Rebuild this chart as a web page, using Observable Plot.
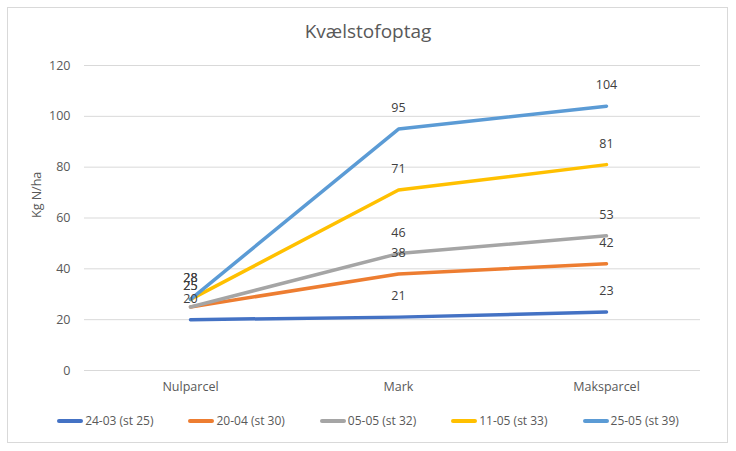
<!DOCTYPE html>
<html><head><meta charset="utf-8">
<script src="https://cdn.jsdelivr.net/npm/d3@7"></script>
<script src="https://cdn.jsdelivr.net/npm/@observablehq/plot@0.6"></script>
<style>
body{margin:0;background:#fff;font-family:"Open Sans","Liberation Sans",sans-serif;}
#frame{position:absolute;left:7px;top:7px;width:721px;height:436px;border:1px solid #d9d9d9;box-sizing:border-box;}
#title{position:absolute;left:7px;top:18px;width:722px;text-align:center;font-size:19px;color:#595959;}
#chart{position:absolute;left:7px;top:45px;}
#legend{position:absolute;left:7px;top:412px;width:722px;display:flex;justify-content:center;gap:35px;font-size:12px;color:#595959;}
#legend span.item{display:flex;align-items:center;}
#legend span.sw{display:inline-block;width:26px;height:4px;margin-right:2px;border-radius:2px;}
</style></head>
<body>
<div id="frame"></div>
<div id="title">Kvælstofoptag</div>
<div id="chart"></div>
<div id="legend"></div>
<script>
const categories = ["Nulparcel", "Mark", "Maksparcel"];
const seriesNames = ["24-03 (st 25)", "20-04 (st 30)", "05-05 (st 32)", "11-05 (st 33)", "25-05 (st 39)"];
const s2403 = [20, 21, 23];
const s2004 = [25, 38, 42];
const s0505 = [25, 46, 53];
const s1105 = [28, 71, 81];
const s2505 = [28, 95, 104];
const colors = ["#4472C4", "#ED7D31", "#A5A5A5", "#FFC000", "#5B9BD5"];
const yTicks = [0, 20, 40, 60, 80, 100, 120];

const allSeries = [s2403, s2004, s0505, s1105, s2505];
const data = [];
allSeries.forEach((vals, i) => vals.forEach((v, j) => data.push({series: seriesNames[i], cat: categories[j], value: v})));

const plot = Plot.plot({
  width: 722, height: 350,
  marginLeft: 77, marginRight: 29, marginTop: 20, marginBottom: 25,
  style: {fontFamily: '"Open Sans","Liberation Sans",sans-serif', fontSize: "12px", color: "#595959", background: "transparent"},
  x: {type: "point", domain: categories, padding: 0, insetLeft: 105, insetRight: 94, label: null},
  y: {domain: [0, 120], ticks: yTicks, label: null},
  color: {domain: seriesNames, range: colors},
  marks: [
    Plot.gridY(yTicks, {stroke: "#d9d9d9", strokeOpacity: 1}),
    Plot.axisY(yTicks, {tickSize: 0, tickPadding: 14, fontSize: 12.5, fill: "#595959"}),
    Plot.axisX({tickSize: 0, tickPadding: 12, fontSize: 12.5, fill: "#595959"}),
    Plot.text(["Kg N/ha"], {frameAnchor: "left", dx: -48, rotate: -90, fontSize: 12.5, fill: "#595959"}),
    Plot.line(data, {x: "cat", y: "value", z: "series", stroke: "series", strokeWidth: 3.5, curve: "linear"}),
    Plot.text(data, {x: "cat", y: "value", text: "value", dy: -21, fontSize: 12.5, fill: "#404040"})
  ]
});
document.getElementById("chart").appendChild(plot);

const leg = document.getElementById("legend");
seriesNames.forEach((n, i) => {
  const it = document.createElement("span"); it.className = "item";
  const sw = document.createElement("span"); sw.className = "sw"; sw.style.background = colors[i];
  it.appendChild(sw); it.appendChild(document.createTextNode(n));
  leg.appendChild(it);
});
</script>
</body></html>
